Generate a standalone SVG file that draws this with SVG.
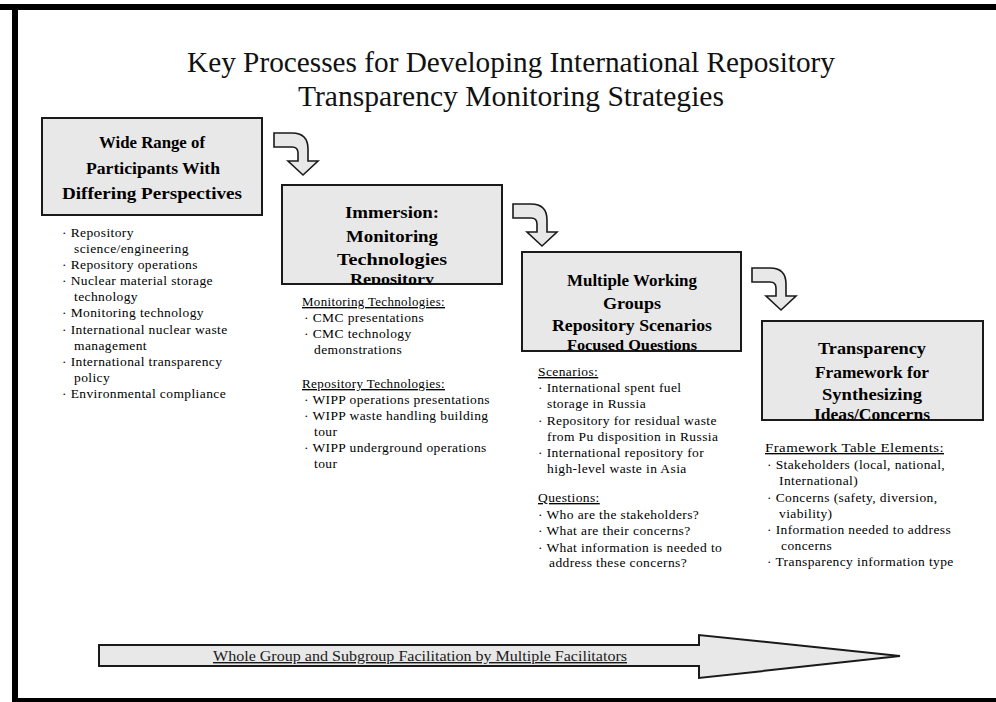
<svg xmlns="http://www.w3.org/2000/svg" width="996" height="702" viewBox="0 0 996 702">
<style>
.title{font-family:"Liberation Serif","Times New Roman",serif;font-size:29px;fill:#111;text-anchor:middle}
.bt{font-family:"Liberation Serif","Times New Roman",serif;font-size:17px;font-weight:bold;fill:#000;text-anchor:middle}
.li{font-family:"Liberation Serif","Times New Roman",serif;font-size:13.5px;letter-spacing:0.4px;fill:#000}
.hd{text-decoration:underline}
.box{fill:#e8e8e8;stroke:#1a1a1a;stroke-width:2}
.bent{fill:#e8e8e8;stroke:#1a1a1a;stroke-width:1.6;stroke-linejoin:miter}
.big{fill:#e8e8e8;stroke:#1a1a1a;stroke-width:2}
.lbl{font-family:"Liberation Serif","Times New Roman",serif;font-size:14px;fill:#1a1a1a;text-anchor:middle;text-decoration:underline}
</style>
<defs>
<path id="bentArrow" d="M0,0 H18 Q34,0 34,16 V28 H44 L29,42 L14,28 H24 V20 Q24,14 18,14 H0 Z"/>
<clipPath id="c2"><rect x="282" y="185" width="220" height="99"/></clipPath>
<clipPath id="c3"><rect x="522" y="252" width="219" height="99"/></clipPath>
<clipPath id="c4"><rect x="762" y="321" width="221" height="99"/></clipPath>
</defs>
<rect x="0" y="0" width="996" height="702" fill="#fff"/>
<g id="frame" fill="#000">
<rect x="0" y="4" width="996" height="6"/>
<rect x="12" y="4" width="6" height="698"/>
<rect x="12" y="698" width="984" height="4"/>
</g>
<g id="title">
<text class="title" x="511" y="72" textLength="648" lengthAdjust="spacingAndGlyphs">Key Processes for Developing International Repository</text>
<text class="title" x="511" y="106" textLength="426" lengthAdjust="spacingAndGlyphs">Transparency Monitoring Strategies</text>
</g>
<g id="connectors">
<use href="#bentArrow" class="bent" transform="translate(274,133)"/>
<use href="#bentArrow" class="bent" transform="translate(513,204)"/>
<use href="#bentArrow" class="bent" transform="translate(752,268)"/>
</g>
<g id="node1">
<rect class="box" x="42" y="118" width="220" height="97"/>
<text class="bt" x="152" y="148" textLength="106" lengthAdjust="spacingAndGlyphs">Wide Range of</text>
<text class="bt" x="153" y="174" textLength="134" lengthAdjust="spacingAndGlyphs">Participants With</text>
<text class="bt" x="152" y="199" textLength="180" lengthAdjust="spacingAndGlyphs">Differing Perspectives</text>
<g class="li">
<text x="62" y="237">·  Repository</text>
<text x="74" y="253">science/engineering</text>
<text x="62" y="269">·  Repository operations</text>
<text x="62" y="285">·  Nuclear material storage</text>
<text x="74" y="301">technology</text>
<text x="62" y="317">·  Monitoring technology</text>
<text x="62" y="334">·  International nuclear waste</text>
<text x="74" y="350">management</text>
<text x="62" y="366">·  International transparency</text>
<text x="74" y="382">policy</text>
<text x="62" y="398">·  Environmental compliance</text>
</g>
</g>
<g id="node2">
<rect class="box" x="282" y="185" width="220" height="99"/>
<g clip-path="url(#c2)">
<text class="bt" x="392" y="218" textLength="94" lengthAdjust="spacingAndGlyphs">Immersion:</text>
<text class="bt" x="392" y="242" textLength="92" lengthAdjust="spacingAndGlyphs">Monitoring</text>
<text class="bt" x="392" y="265" textLength="110" lengthAdjust="spacingAndGlyphs">Technologies</text>
<text class="bt" x="392" y="284" style="font-size:14px" textLength="84" lengthAdjust="spacingAndGlyphs">Repository</text>
</g>
<g class="li">
<text class="hd" x="302" y="306" textLength="143" lengthAdjust="spacingAndGlyphs">Monitoring Technologies:</text>
<text x="304" y="322">·  CMC presentations</text>
<text x="304" y="338">·  CMC technology</text>
<text x="314" y="354">demonstrations</text>
<text class="hd" x="302" y="388" textLength="143" lengthAdjust="spacingAndGlyphs">Repository Technologies:</text>
<text x="304" y="404">·  WIPP operations presentations</text>
<text x="304" y="420">·  WIPP waste handling building</text>
<text x="314" y="436">tour</text>
<text x="304" y="452">·  WIPP underground operations</text>
<text x="314" y="468">tour</text>
</g>
</g>
<g id="node3">
<rect class="box" x="522" y="252" width="219" height="99"/>
<g clip-path="url(#c3)">
<text class="bt" x="632" y="286" textLength="130" lengthAdjust="spacingAndGlyphs">Multiple Working</text>
<text class="bt" x="632" y="309" textLength="58" lengthAdjust="spacingAndGlyphs">Groups</text>
<text class="bt" x="632" y="331" textLength="160" lengthAdjust="spacingAndGlyphs">Repository Scenarios</text>
<text class="bt" x="632" y="350" style="font-size:15px" textLength="130" lengthAdjust="spacingAndGlyphs">Focused Questions</text>
</g>
<g class="li">
<text class="hd" x="538" y="376">Scenarios:</text>
<text x="538" y="392">· International spent fuel</text>
<text x="547" y="408">storage in Russia</text>
<text x="538" y="425">·  Repository for residual waste</text>
<text x="547" y="441">from Pu disposition in Russia</text>
<text x="538" y="457">· International repository for</text>
<text x="547" y="473">high-level waste in Asia</text>
<text class="hd" x="538" y="502">Questions:</text>
<text x="538" y="519">·  Who are the stakeholders?</text>
<text x="538" y="535">·  What are their concerns?</text>
<text x="538" y="552">·  What information is needed to</text>
<text x="549" y="567">address these concerns?</text>
</g>
</g>
<g id="node4">
<rect class="box" x="762" y="321" width="221" height="99"/>
<g clip-path="url(#c4)">
<text class="bt" x="872" y="354" textLength="108" lengthAdjust="spacingAndGlyphs">Transparency</text>
<text class="bt" x="872" y="378" textLength="114" lengthAdjust="spacingAndGlyphs">Framework for</text>
<text class="bt" x="872" y="400" textLength="100" lengthAdjust="spacingAndGlyphs">Synthesizing</text>
<text class="bt" x="872" y="420" textLength="116" lengthAdjust="spacingAndGlyphs">Ideas/Concerns</text>
</g>
<g class="li">
<text class="hd" x="765" y="452" textLength="179" lengthAdjust="spacingAndGlyphs">Framework Table Elements:</text>
<text x="767" y="469">·  Stakeholders (local, national,</text>
<text x="779" y="485">International)</text>
<text x="767" y="502">·  Concerns (safety, diversion,</text>
<text x="779" y="518">viability)</text>
<text x="767" y="534">· Information needed to address</text>
<text x="781" y="550">concerns</text>
<text x="767" y="566">·  Transparency information type</text>
</g>
</g>
<g id="facilitation">
<polygon class="big" points="99,645 699,645 699,635 900,656 699,678 699,666 99,666"/>
<text class="lbl" x="420" y="661" textLength="414" lengthAdjust="spacingAndGlyphs">Whole Group and Subgroup Facilitation by Multiple Facilitators</text>
</g>
</svg>
